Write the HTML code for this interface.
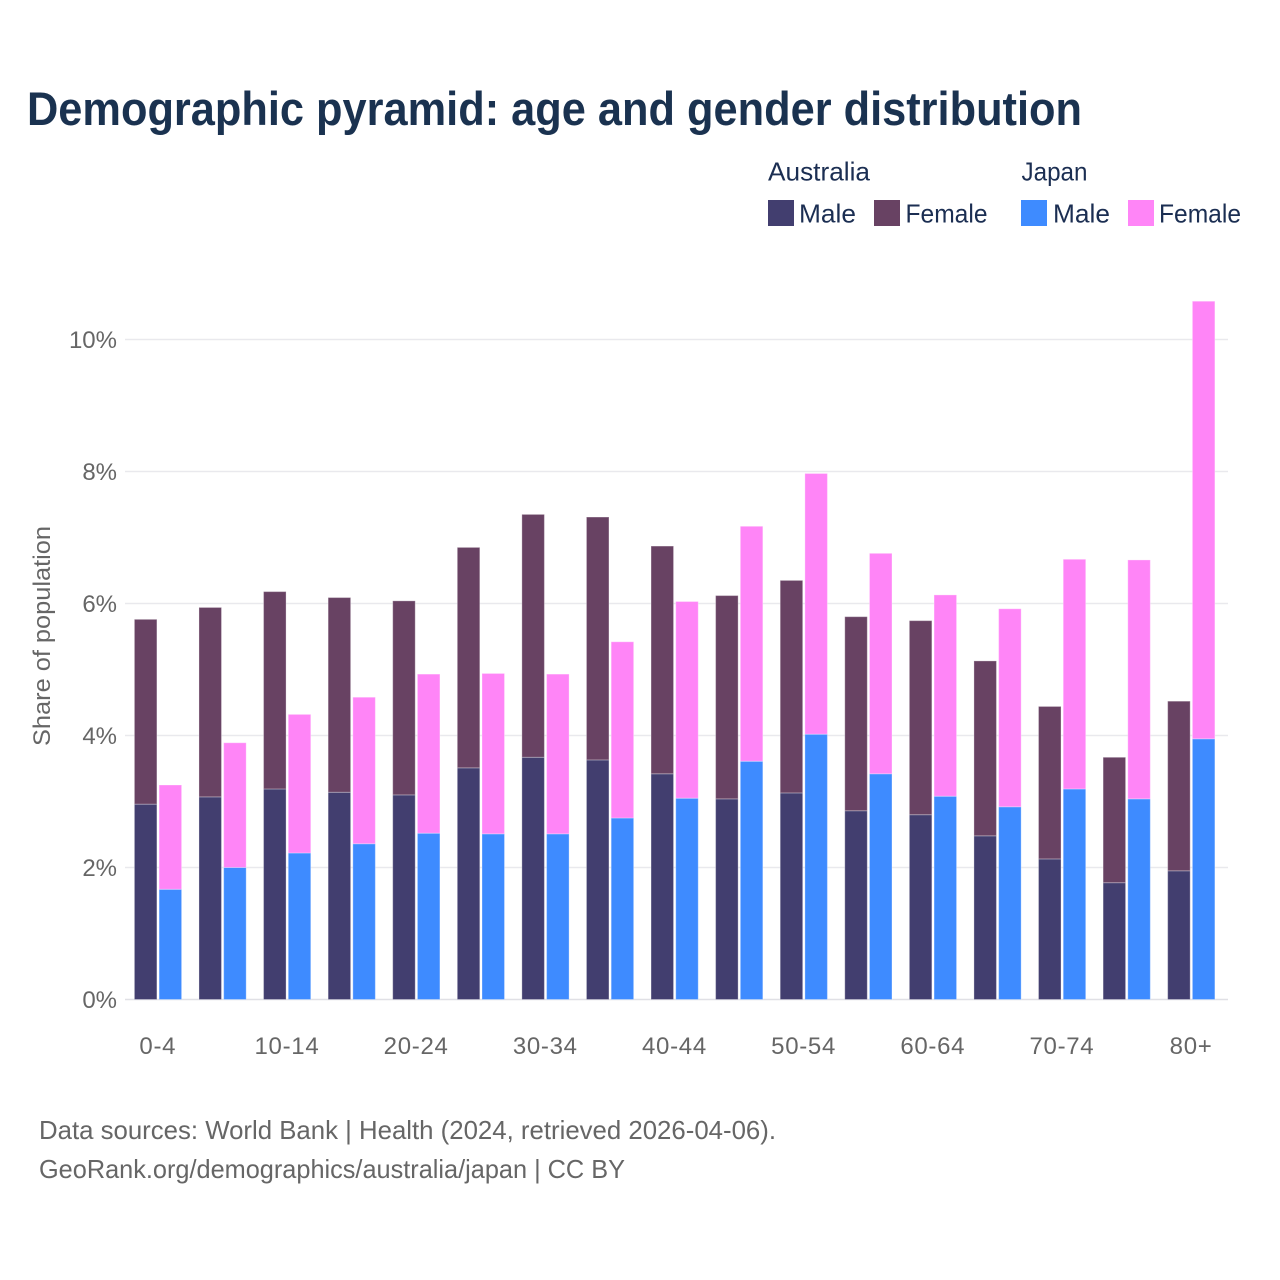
<!DOCTYPE html>
<html lang="en">
<head>
<meta charset="utf-8">
<title>Demographic pyramid: age and gender distribution</title>
<style>
html,body{margin:0;padding:0;background:#fff;width:1280px;height:1280px;overflow:hidden}
svg{display:block}
text{font-family:"Liberation Sans",sans-serif}
</style>
</head>
<body>
<svg id="chart" xmlns="http://www.w3.org/2000/svg" width="1280" height="1280" viewBox="0 0 1280 1280">
<rect width="1280" height="1280" fill="#fff"/>
<text x="27" y="125" font-size="47" font-weight="700" fill="#1a3250" textLength="1055" lengthAdjust="spacingAndGlyphs">Demographic pyramid: age and gender distribution</text>

<g font-size="26" fill="#1b2e52">
<text x="768" y="180.5" textLength="102" lengthAdjust="spacingAndGlyphs">Australia</text>
<text x="1021.5" y="180.5" textLength="66" lengthAdjust="spacingAndGlyphs">Japan</text>
<rect x="768" y="200" width="26" height="26" fill="#423e6f"/>
<text x="799" y="222.5" textLength="57" lengthAdjust="spacingAndGlyphs">Male</text>
<rect x="874" y="200" width="26" height="26" fill="#684263"/>
<text x="905.5" y="222.5" textLength="82" lengthAdjust="spacingAndGlyphs">Female</text>
<rect x="1021" y="200" width="26" height="26" fill="#3e8bff"/>
<text x="1053" y="222.5" textLength="57" lengthAdjust="spacingAndGlyphs">Male</text>
<rect x="1128" y="200" width="26" height="26" fill="#ff85f7"/>
<text x="1159" y="222.5" textLength="82" lengthAdjust="spacingAndGlyphs">Female</text>
</g>

<g id="grid"></g>
<g id="yticks"></g>
<g id="bars"></g>
<g id="xticks"></g>

<text transform="translate(50,636) rotate(-90)" text-anchor="middle" font-size="24" fill="#666" textLength="220" lengthAdjust="spacingAndGlyphs">Share of population</text>

<text x="39" y="1139" font-size="26" fill="#666" textLength="737" lengthAdjust="spacingAndGlyphs">Data sources: World Bank | Health (2024, retrieved 2026-04-06).</text>
<text x="39" y="1178" font-size="26" fill="#666" textLength="586" lengthAdjust="spacingAndGlyphs">GeoRank.org/demographics/australia/japan | CC BY</text>
</svg>
<script>
const categories = ["0-4","5-9","10-14","15-19","20-24","25-29","30-34","35-39","40-44","45-49","50-54","55-59","60-64","65-69","70-74","75-79","80+"];
const australiaMale = [2.96,3.07,3.19,3.14,3.10,3.51,3.67,3.63,3.42,3.04,3.13,2.86,2.80,2.48,2.13,1.77,1.95];
const australiaFemale = [2.80,2.87,2.99,2.95,2.94,3.34,3.68,3.68,3.45,3.08,3.22,2.94,2.94,2.65,2.31,1.90,2.57];
const japanMale = [1.67,2.00,2.22,2.36,2.52,2.51,2.51,2.75,3.05,3.61,4.02,3.42,3.08,2.92,3.19,3.04,3.95];
const japanFemale = [1.58,1.89,2.10,2.22,2.41,2.43,2.42,2.67,2.98,3.56,3.95,3.34,3.05,3.00,3.48,3.62,6.63];
const yTicks = [0,2,4,6,8,10];
const xTickLabels = ["0-4","10-14","20-24","30-34","40-44","50-54","60-64","70-74","80+"];

const NS = "http://www.w3.org/2000/svg";
function yScale(v){ return 999.5 - v * 66; }
function xCenter(i){ return 157.8 + i * 64.58; }

function make(tag, parent, attrs){
  const el = document.createElementNS(NS, tag);
  for (const k in attrs) el.setAttribute(k, attrs[k]);
  parent.appendChild(el);
  return el;
}

const gridG = document.getElementById("grid");
const yG = document.getElementById("yticks");
yTicks.forEach(function(t){
  const line = make("line", gridG, {x1:125, x2:1228, y1:yScale(t), y2:yScale(t), stroke: t===0 ? "#e0e0e5" : "#e9e9ed", "stroke-width":1.4});
  
  
  const label = make("text", yG, {x:117, y:yScale(t)+8.5, "text-anchor":"end", "font-size":24, fill:"#666"});
  label.textContent = t + "%";
  
  
});

const barG = document.getElementById("bars");
function stackBar(i, offset, lower, upper, lowerColor, upperColor, series){
  const x = xCenter(i) + offset;
  const w = 22.5;
  const segLow = make("rect", barG, {x:x, y:yScale(lower), width:w, height:yScale(0)-yScale(lower), fill:lowerColor, stroke:"rgba(255,255,255,0.3)", "stroke-width":1});
  
  
  const segUp = make("rect", barG, {x:x, y:yScale(lower+upper), width:w, height:yScale(lower)-yScale(lower+upper), fill:upperColor, stroke:"rgba(255,255,255,0.3)", "stroke-width":1});
  
  
}
categories.forEach(function(c, i){
  stackBar(i, -23.4, australiaMale[i], australiaFemale[i], "#423e6f", "#684263", "australia");
  stackBar(i, 1.3, japanMale[i], japanFemale[i], "#3e8bff", "#ff85f7", "japan");
});

const xG = document.getElementById("xticks");
xTickLabels.forEach(function(lab){
  const i = categories.indexOf(lab);
  const t = make("text", xG, {x:xCenter(i), y:1054, "text-anchor":"middle", "font-size":24, fill:"#666", "letter-spacing":"0.7"});
  t.textContent = lab;
  
  
});
</script>
</body>
</html>
